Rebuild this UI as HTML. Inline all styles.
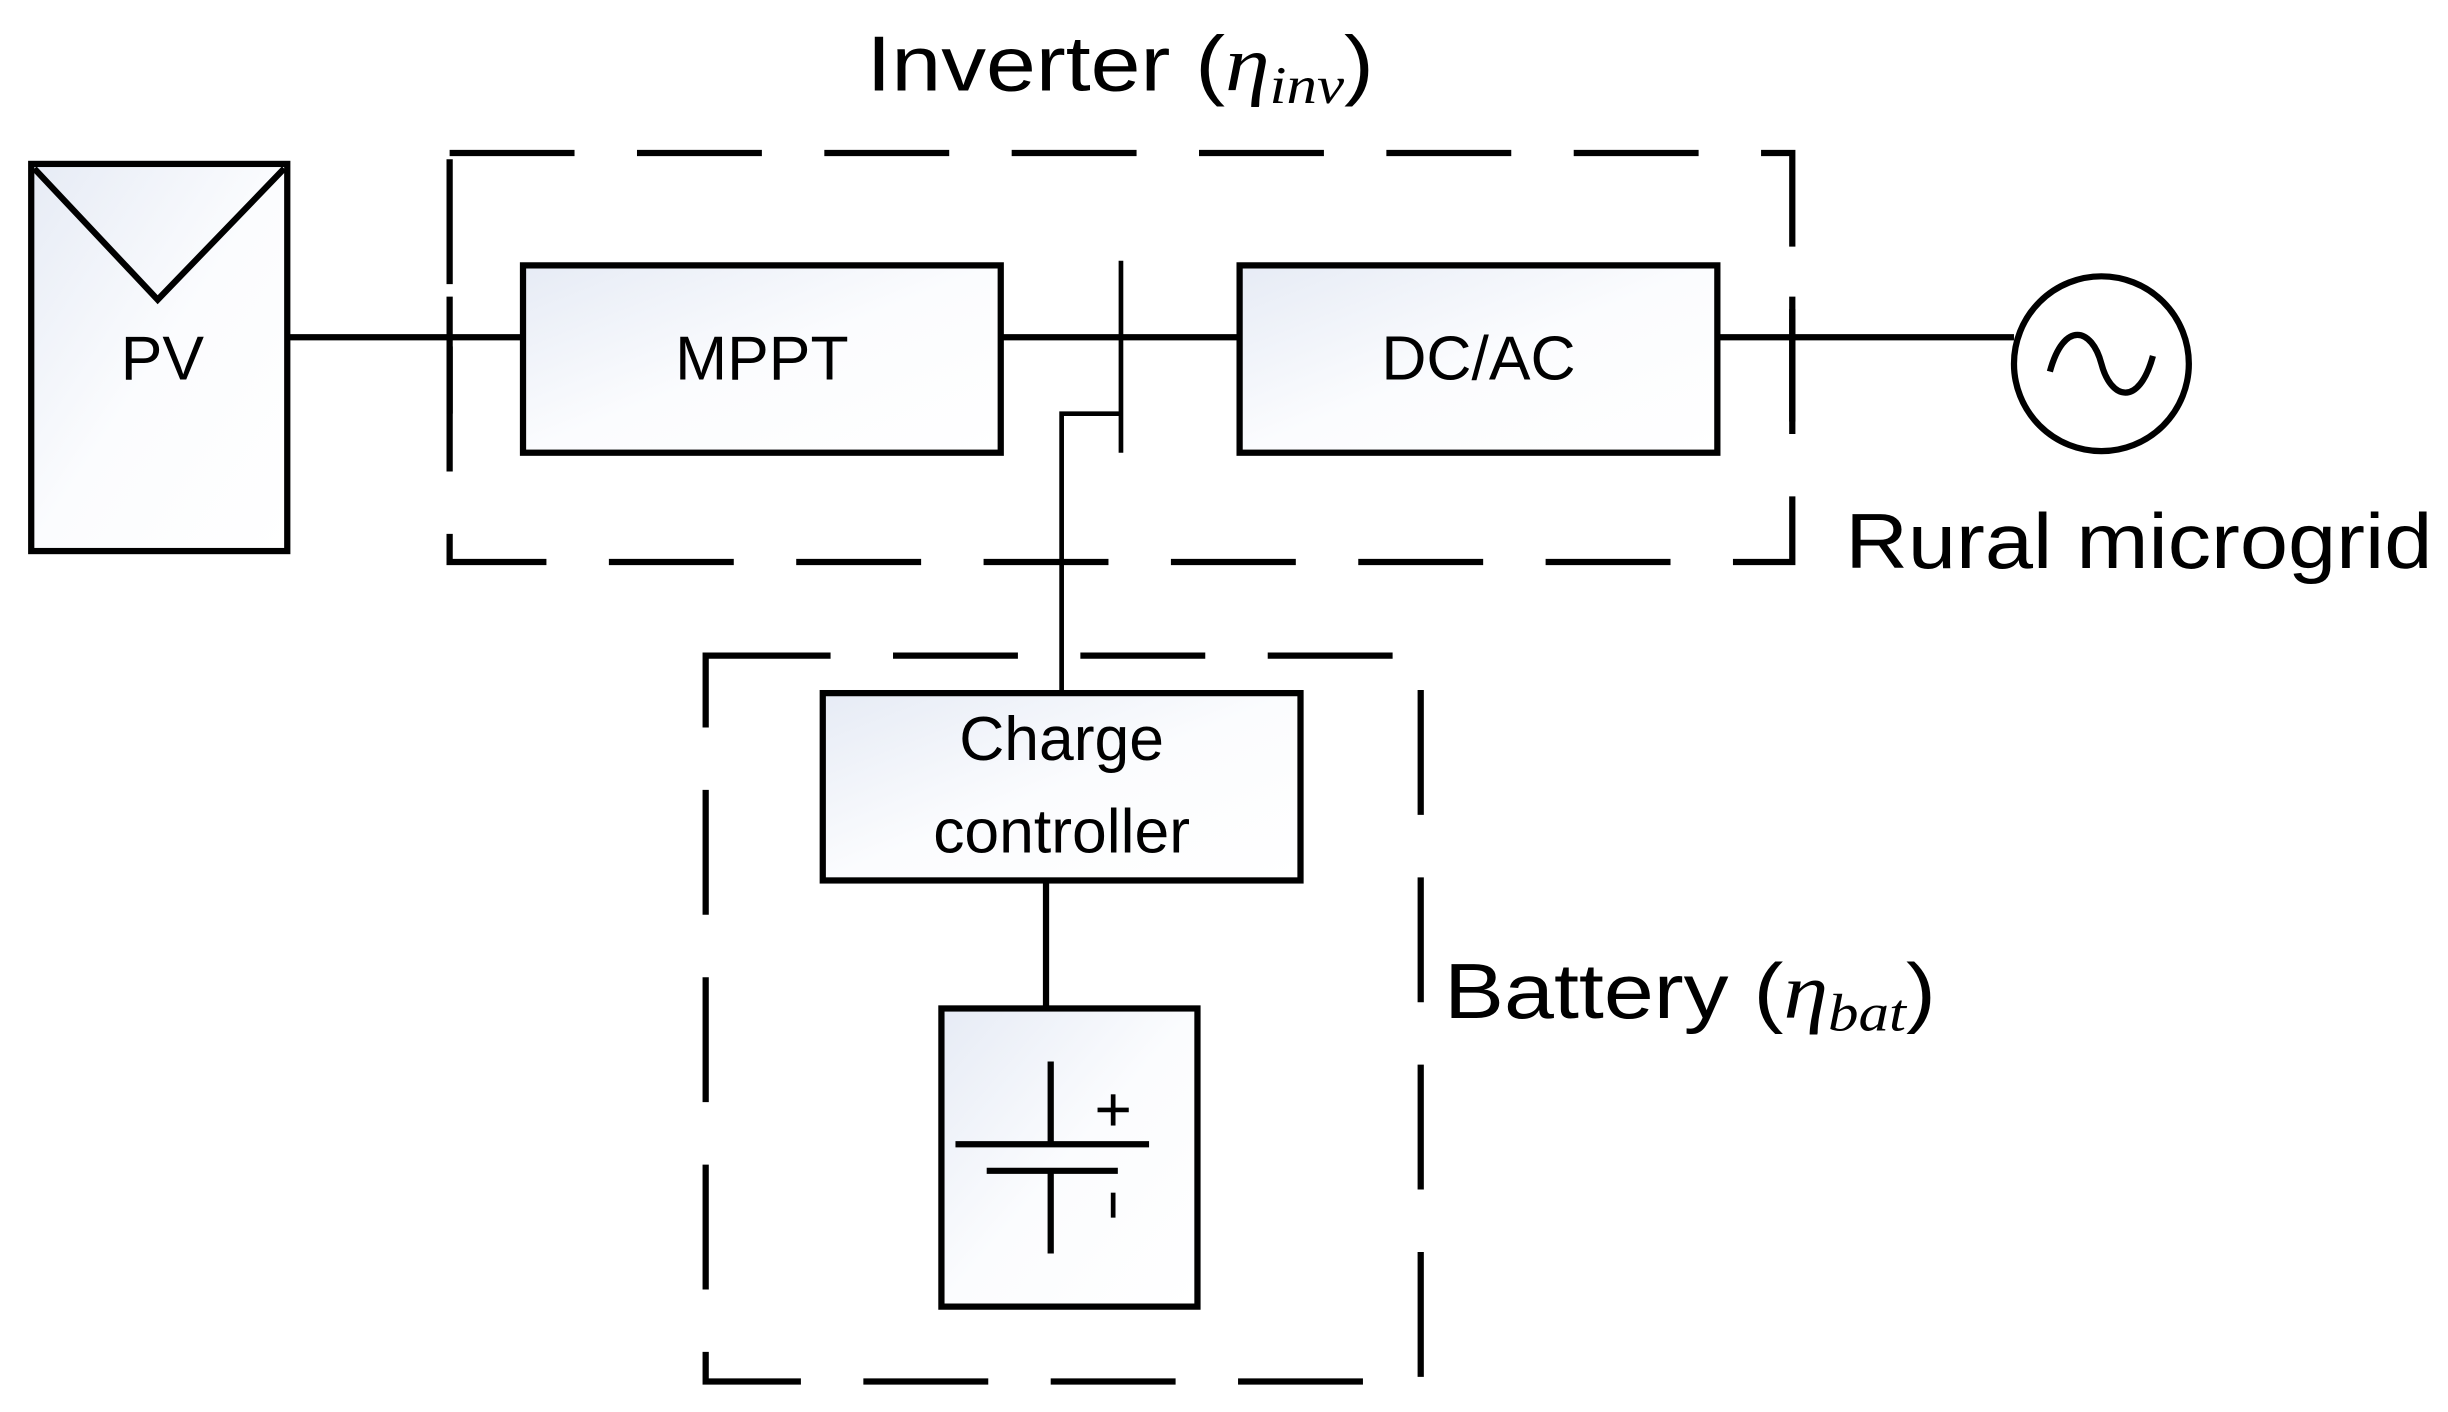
<!DOCTYPE html>
<html><head><meta charset="utf-8"><style>html,body{margin:0;padding:0;background:#fff;}svg{display:block}</style></head>
<body>
<svg width="2448" height="1412" viewBox="0 0 1568 904.5" preserveAspectRatio="none" xmlns="http://www.w3.org/2000/svg" font-family="Liberation Sans, sans-serif">
<defs>
<linearGradient id="g" x1="0" y1="0" x2="1" y2="1">
<stop offset="0" stop-color="#e6ebf5"/><stop offset="0.5" stop-color="#fbfcfe"/><stop offset="1" stop-color="#ffffff"/>
</linearGradient>
</defs>
<g stroke="#000" stroke-width="4" fill="none">
<rect x="288" y="98" width="860" height="262" stroke-dasharray="80 40" stroke-width="4"/>
<rect x="452" y="420" width="458" height="465" stroke-dasharray="80 40" stroke-width="4"/>
<rect x="20" y="105" width="164" height="248" fill="url(#g)"/>
<polyline points="22,108 101,192 182,108"/>
<rect x="335" y="170" width="306" height="120" fill="url(#g)"/>
<rect x="794" y="170" width="306" height="120" fill="url(#g)"/>
<rect x="527" y="444" width="306" height="120" fill="url(#g)"/>
<rect x="603" y="646" width="164" height="191" fill="url(#g)"/>
<line x1="184" y1="216" x2="335" y2="216"/>
<line x1="641" y1="216" x2="794" y2="216"/>
<line x1="1100" y1="216" x2="1290" y2="216"/>
<line x1="718" y1="167" x2="718" y2="290" stroke-width="3"/>
<polyline points="718,265 680,265 680,444" stroke-width="3"/>
<line x1="670" y1="564" x2="670" y2="646"/>
<line x1="1148" y1="190" x2="1148" y2="270"/>
<line x1="288" y1="190" x2="288" y2="265"/>
<circle cx="1346" cy="233" r="56"/>
<path d="M1313,238 C1322,205 1340,210 1346,233 C1352,256 1370,261 1379,228"/>
<line x1="673" y1="680" x2="673" y2="733"/>
<line x1="612" y1="733" x2="736" y2="733"/>
<line x1="632" y1="750" x2="716" y2="750"/>
<line x1="673" y1="750" x2="673" y2="803"/>
<line x1="713" y1="701" x2="713" y2="721" stroke-width="3"/>
<line x1="703" y1="711" x2="723" y2="711" stroke-width="3"/>
<line x1="713" y1="764" x2="713" y2="780" stroke-width="3"/>
</g>
<g fill="#000" text-anchor="middle">
<text x="104" y="243" font-size="40">PV</text>
<text x="488" y="243" font-size="40">MPPT</text>
<text x="947" y="243" font-size="40">DC/AC</text>
<text x="680" y="487" font-size="40">Charge</text>
<text x="680" y="546" font-size="40">controller</text>
</g>
<g fill="#000" font-size="50">
<text x="555" y="58" textLength="325" lengthAdjust="spacingAndGlyphs">Inverter (<tspan font-family="Liberation Serif, serif" font-style="italic">η</tspan><tspan font-family="Liberation Serif, serif" font-style="italic" font-size="34" dy="8">inv</tspan><tspan dy="-8">)</tspan></text>
<text x="1182" y="364" textLength="376" lengthAdjust="spacingAndGlyphs">Rural microgrid</text>
<text x="925" y="652" textLength="315" lengthAdjust="spacingAndGlyphs">Battery (<tspan font-family="Liberation Serif, serif" font-style="italic">η</tspan><tspan font-family="Liberation Serif, serif" font-style="italic" font-size="34" dy="8">bat</tspan><tspan dy="-8">)</tspan></text>
</g>
</svg>
</body></html>
